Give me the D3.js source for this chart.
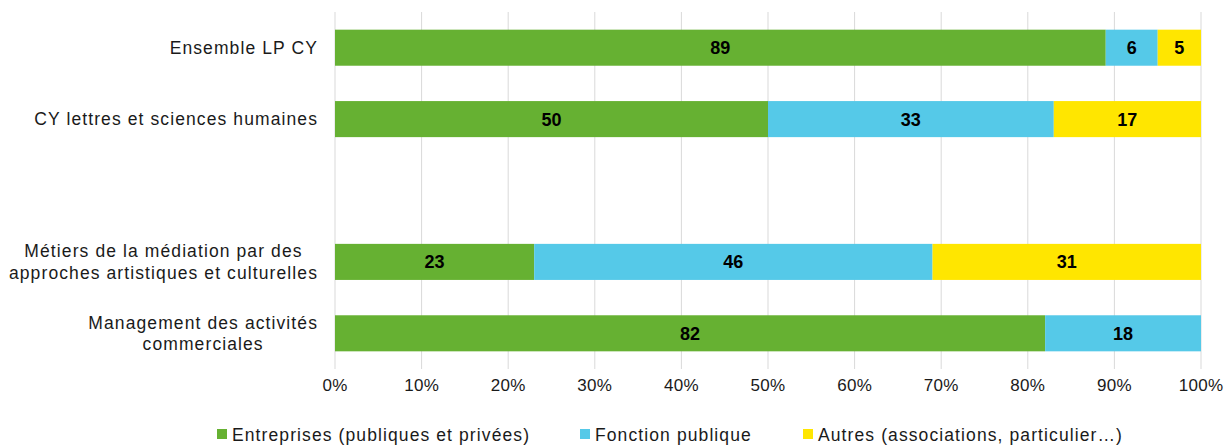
<!DOCTYPE html>
<html>
<head>
<meta charset="utf-8">
<script src="https://cdn.jsdelivr.net/npm/d3@7"></script>
<style>
  body { margin: 0; background: #fff; }
  text { font-family: "Liberation Sans", Arial, sans-serif; fill: #1a1a1a; }
</style>
</head>
<body>
<div class="canvas"></div>
<script>
// Data
const categories = [
  ['Ensemble LP CY'],
  ['CY lettres et sciences humaines'],
  [],
  ['Métiers de la médiation par des', 'approches artistiques et culturelles'],
  ['Management des activités', 'commerciales']
];
const series = ['Entreprises (publiques et privées)', 'Fonction publique', 'Autres (associations, particulier…)'];
const entreprises = [89, 50, null, 23, 82];
const fonctionPublique = [6, 33, null, 46, 18];
const autres = [5, 17, null, 31, 0];
const ticks = [0, 10, 20, 30, 40, 50, 60, 70, 80, 90, 100];

const colors = ['#66B132', '#55C9E8', '#FFE600'];
const dims = { width: 1224, height: 445 };
const margin = { left: 335, right: 23, top: 12, bottom: 76 };

const svg = d3.select('.canvas')
  .append('svg')
  .attr('width', dims.width)
  .attr('height', dims.height);

const x = d3.scaleLinear()
  .domain([0, 100])
  .range([margin.left, dims.width - margin.right]);

const y = d3.scaleBand()
  .domain(d3.range(categories.length))
  .range([margin.top, dims.height - margin.bottom])
  .paddingInner(0.495)
  .paddingOuter(0.2475);

// gridlines
svg.append('g')
  .selectAll('line')
  .data(ticks)
  .enter().append('line')
  .attr('x1', d => x(d)).attr('x2', d => x(d))
  .attr('y1', margin.top).attr('y2', dims.height - margin.bottom)
  .attr('stroke', '#d9d9d9')
  .attr('stroke-width', 1);

// tick labels
svg.append('g')
  .selectAll('text')
  .data(ticks)
  .enter().append('text')
  .attr('x', d => x(d))
  .attr('y', 391)
  .attr('text-anchor', 'middle')
  .style('font-size', '17px')
  .style('letter-spacing', '0.3px')
  .text(d => d + '%');

// stack
const rows = categories.map((c, i) => ({
  i, valid: entreprises[i] != null,
  s0: entreprises[i] || 0, s1: fonctionPublique[i] || 0, s2: autres[i] || 0
}));
const stack = d3.stack().keys(['s0', 's1', 's2']);
const layers = stack(rows.filter(r => r.valid));

const groups = svg.append('g')
  .selectAll('g')
  .data(layers)
  .enter().append('g')
  .attr('fill', (d, k) => colors[k]);

groups.selectAll('rect')
  .data(d => d.filter(p => p[1] > p[0]))
  .enter().append('rect')
  .attr('x', d => x(d[0]))
  .attr('y', d => y(d.data.i))
  .attr('width', d => x(d[1]) - x(d[0]))
  .attr('height', y.bandwidth());

groups.selectAll('text')
  .data(d => d.filter(p => p[1] > p[0]))
  .enter().append('text')
  .attr('x', d => (x(d[0]) + x(d[1])) / 2)
  .attr('y', d => y(d.data.i) + y.bandwidth() / 2 + 6.5)
  .attr('text-anchor', 'middle')
  .style('font-size', '18px')
  .style('font-weight', 'bold')
  .style('fill', '#000')
  .text(d => d[1] - d[0]);

// category labels (lines centred within a right-aligned block)
const labelRight = 318;
categories.forEach((lines, i) => {
  if (!lines.length) return;
  const g = svg.append('g');
  const cy = y(i) + y.bandwidth() / 2;
  const lh = 21.5;
  const texts = lines.map((l, j) => g.append('text')
    .attr('y', cy + 6 + (j - (lines.length - 1) / 2) * lh)
    .style('font-size', '17.5px')
    .style('letter-spacing', '1.1px')
    .text(l));
  const w = d3.max(texts, t => t.node().getComputedTextLength());
  texts.forEach(t => t.attr('x', labelRight - w / 2).attr('text-anchor', 'middle'));
});

// legend
const legendX = [217, 580, 803];
const legend = svg.append('g')
  .selectAll('g')
  .data(series)
  .enter().append('g')
  .attr('transform', (d, k) => `translate(${legendX[k]}, 434)`);

legend.append('rect')
  .attr('x', 0).attr('y', -5)
  .attr('width', 10).attr('height', 10)
  .attr('fill', (d, k) => colors[k]);

legend.append('text')
  .attr('x', 15)
  .attr('y', 6.5)
  .style('font-size', '17.5px')
  .style('letter-spacing', '1.1px')
  .text(d => d);
</script>
</body>
</html>
